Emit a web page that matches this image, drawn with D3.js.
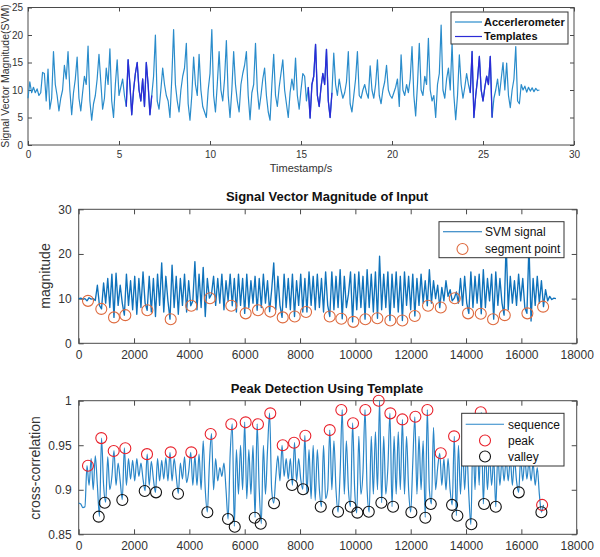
<!DOCTYPE html>
<html><head><meta charset="utf-8">
<script src="https://cdn.jsdelivr.net/npm/d3@7"></script>
<style>body{margin:0;background:#fff;} svg{display:block;font-family:Arial,"Liberation Sans",Helvetica,sans-serif;}</style>
</head><body><svg id="chart" width="600" height="557"></svg>
<script>
// ---------- Panel 1: accelerometer SVM vs time ----------
const accelStep = 0.1; // seconds between samples
const accelValues = [
 8.5,11.5,9.5,10.5,9.5,10.2,9.0,9.5,13.2,13.0,
 8.0,13.8,6.5,8.5,17.0,11.0,9.0,6.2,8.5,10.0,
 14.5,12.0,17.0,10.0,5.5,9.5,12.0,16.0,8.5,6.2,
 9.5,12.5,11.0,18.0,8.0,4.5,7.5,9.0,12.0,16.5,
 11.5,6.5,8.5,14.0,11.0,17.5,8.0,5.0,11.0,15.5,
 9.0,10.5,12.0,9.0,7.0,15.5,11.0,5.5,10.0,13.0,
 15.0,10.0,8.0,12.0,7.0,15.0,11.0,5.5,9.0,12.5,
 20.0,8.0,6.5,10.0,14.0,11.0,9.0,8.0,5.0,12.0,
 21.0,11.0,8.0,6.0,10.0,12.5,14.0,18.5,7.5,4.5,
 9.0,16.0,11.0,9.0,16.5,10.0,7.0,6.0,5.0,10.0,
 13.0,21.0,9.0,6.0,11.0,17.0,10.0,8.0,12.0,19.0,
 9.0,5.0,10.0,17.0,11.0,8.0,6.0,11.0,13.0,14.5,
 17.0,9.0,4.6,9.5,11.0,18.5,10.0,6.5,9.0,12.0,
 14.0,9.0,6.0,4.5,11.0,16.5,9.0,7.0,10.5,13.0,
 15.5,10.0,7.5,5.0,9.5,12.0,10.0,15.8,9.0,6.5,
 10.0,13.0,12.5,8.0,10.5,4.9,11.0,12.5,18.3,9.0,
 7.0,10.5,13.0,11.0,17.4,8.0,5.0,9.5,16.7,11.0,
 9.0,12.0,10.0,8.5,9.5,11.5,17.0,7.5,6.0,9.0,
 12.0,17.0,9.0,8.5,10.0,11.0,9.5,8.5,14.4,10.0,
 8.5,11.0,15.5,9.0,7.5,10.0,11.5,14.5,10.0,9.0,
 8.5,9.5,10.5,12.0,7.0,16.4,10.0,9.0,11.0,9.5,
 12.0,17.9,9.0,5.3,11.0,18.5,10.0,9.0,12.5,11.0,
 19.4,10.0,8.0,9.0,5.0,11.0,13.0,21.8,10.0,8.5,
 12.0,14.0,10.0,18.5,9.0,4.6,9.0,16.4,11.0,8.5,
 10.5,13.0,11.0,9.5,17.0,5.0,9.0,12.0,16.1,10.0,
 8.0,10.5,12.5,11.0,16.1,5.0,8.5,10.0,12.0,9.0,
 12.0,15.0,10.0,14.9,9.0,6.8,10.0,12.0,17.9,8.0,
 7.5,11.0,10.0,10.7,9.6,10.5,9.8,10.4,9.7,10.3,
 9.9,10.0
];
const templateStarts = [5.4, 15.4, 24.3];
const templateEnds = [6.8, 16.7, 25.5];
const accelXTicks = [0, 5, 10, 15, 20, 25, 30];
const accelYTicks = [0, 5, 10, 15, 20, 25];

// ---------- Panel 2: SVM of input ----------
const svmStep = 75; // samples between values
const svmValues = [
 10.0,10.1,9.9,10.0,9.5,10.2,9.9,10.0,9.6,13.0,
 8.5,7.7,13.5,9.0,14.5,8.0,15.5,5.8,15.7,8.5,
 13.0,9.0,6.3,15.5,8.5,14.0,7.5,15.0,6.5,14.5,
 8.0,16.0,9.0,7.4,15.0,7.0,14.5,6.0,15.5,8.5,
 18.0,7.0,15.0,9.5,5.4,17.5,8.0,15.0,6.5,14.5,
 8.5,15.5,7.0,14.0,8.4,9.5,18.3,7.5,15.5,8.0,
 17.0,6.0,14.5,10.1,11.0,15.0,8.5,14.5,9.0,15.5,
 7.5,14.0,9.5,15.5,8.4,14.5,7.0,15.5,8.5,14.5,
 6.7,15.5,8.0,14.0,9.0,15.0,7.4,14.5,8.0,15.5,
 9.0,14.0,7.1,12.0,18.0,7.5,15.0,8.5,5.8,15.5,
 8.0,14.5,7.5,15.5,6.0,14.0,8.5,15.5,7.0,14.5,
 7.0,16.0,8.5,15.0,7.5,15.5,8.0,14.5,7.0,16.0,
 8.5,6.0,16.0,7.5,15.0,8.0,16.5,5.5,15.0,8.0,
 11.0,16.0,4.8,15.5,7.5,16.0,8.0,15.0,5.4,16.5,
 8.0,15.5,7.0,16.0,5.6,19.5,7.5,15.5,8.0,16.0,
 5.1,15.5,8.0,16.0,7.0,15.0,5.1,16.0,8.5,15.0,
 7.5,15.5,6.1,14.5,8.5,15.5,9.0,14.0,8.4,16.5,
 9.0,14.0,10.0,13.0,8.0,12.5,9.5,14.0,10.5,12.0,
 9.5,10.1,11.5,9.0,14.5,8.5,15.0,9.0,6.7,16.0,
 8.0,15.0,9.0,15.5,6.6,16.5,8.0,14.5,9.5,15.5,
 5.4,16.0,8.5,14.5,9.0,6.3,22.5,7.5,15.0,9.0,
 14.0,8.5,15.5,9.5,14.5,8.0,6.7,22.0,5.0,14.5,
 8.5,15.0,9.0,14.0,8.2,12.0,9.5,10.5,9.8,10.1,
 10.0
];
const segmentSamples = [336,817,1277,1685,2480,3325,4070,4745,5516,6035,6480,6925,7374,7808,8217,9073,9493,9927,10361,10795,11265,11699,12147,12627,13086,13592,14073,14532,14977,15400,16218,16786];
const segmentValues = [9.5,7.7,5.8,6.3,7.4,5.4,8.4,10.1,8.4,6.7,7.4,7.1,5.8,6.0,7.0,6.0,5.5,4.8,5.4,5.6,5.1,5.1,6.1,8.4,8.0,10.1,6.7,6.6,5.4,6.3,6.7,8.2];
const sampleXTicks = [0,2000,4000,6000,8000,10000,12000,14000,16000,18000];
const svmYTicks = [0, 10, 20, 30];

// ---------- Panel 3: cross-correlation ----------
const corrStep = 75;
const corrValues = [
 0.885,0.884,0.880,0.881,0.927,0.905,0.935,0.900,0.938,0.905,
 0.870,0.958,0.905,0.886,0.937,0.900,0.915,0.944,0.905,0.930,
 0.910,0.889,0.947,0.905,0.935,0.912,0.933,0.910,0.935,0.915,
 0.930,0.912,0.899,0.940,0.905,0.932,0.912,0.897,0.935,0.910,
 0.933,0.912,0.936,0.910,0.942,0.910,0.935,0.915,0.896,0.930,
 0.912,0.937,0.908,0.920,0.942,0.905,0.938,0.905,0.940,0.900,
 0.955,0.900,0.875,0.930,0.963,0.900,0.935,0.910,0.925,0.915,
 0.930,0.900,0.867,0.940,0.974,0.859,0.945,0.895,0.950,0.900,
 0.976,0.890,0.945,0.895,0.950,0.869,0.974,0.900,0.862,0.950,
 0.895,0.945,0.986,0.900,0.885,0.915,0.938,0.910,0.950,0.915,
 0.935,0.912,0.935,0.905,0.953,0.910,0.935,0.912,0.9005,0.961,
 0.895,0.945,0.890,0.950,0.888,0.945,0.900,0.881,0.950,0.890,
 0.900,0.967,0.900,0.955,0.900,0.875,0.920,0.990,0.895,0.955,
 0.900,0.881,0.975,0.900,0.874,0.960,0.895,0.920,0.990,0.900,
 0.875,0.960,0.895,0.965,0.900,1.000,0.8855,0.960,0.895,0.925,
 0.986,0.881,0.960,0.895,0.965,0.900,0.979,0.895,0.960,0.900,
 0.875,0.930,0.982,0.895,0.960,0.900,0.955,0.869,0.990,0.900,
 0.884,0.970,0.900,0.925,0.941,0.905,0.935,0.900,0.935,0.900,
 0.883,0.960,0.871,0.950,0.895,0.950,0.900,0.945,0.895,0.861,
 0.960,0.900,0.965,0.905,0.987,0.884,0.945,0.900,0.940,0.905,
 0.935,0.881,0.940,0.905,0.935,0.910,0.935,0.910,0.935,0.905,
 0.935,0.910,0.897,0.935,0.910,0.935,0.912,0.932,0.910,0.930,
 0.905,0.925,0.895,0.875,0.883
];
const peakSamples = [336,817,1265,1685,2469,3325,4070,4770,5516,6035,6480,6925,7374,7783,8192,9073,9493,9916,10361,10844,11265,11699,12169,12603,13086,13568,14532,16750];
const peakValues = [0.927,0.958,0.9435,0.9466,0.940,0.942,0.942,0.9626,0.9735,0.9757,0.9735,0.9858,0.950,0.9528,0.9607,0.967,0.9895,0.9746,0.9895,1.0,0.9858,0.979,0.982,0.9895,0.941,0.960,0.987,0.883];
const valleySamples = [723,940,1577,2386,2795,3590,4650,5398,5640,6362,6579,7060,7711,8109,8749,9374,9833,10072,10484,10940,11362,12024,12530,12725,13495,13687,14193,14652,15075,15906,16724];
const valleyValues = [0.8698,0.8855,0.8885,0.8986,0.8971,0.8956,0.8747,0.8672,0.8585,0.8686,0.8619,0.8848,0.9053,0.9005,0.881,0.8754,0.881,0.8743,0.8754,0.8855,0.881,0.8747,0.8686,0.884,0.883,0.8709,0.8612,0.884,0.881,0.8971,0.8747];
const corrYTicks = [0.85, 0.9, 0.95, 1];

// ---------- drawing ----------
const svg = d3.select("#chart");
const axisColor = "#4a4a4a";
const textColor = "#333";

function panel(o) {
  const x = d3.scaleLinear().domain(o.xDomain).range([o.left, o.right]);
  const y = d3.scaleLinear().domain(o.yDomain).range([o.bottom, o.top]);
  const g = svg.append("g");
  const tl = o.tickLen;
  const fmtX = o.fmtX || (d => String(d));
  const fmtY = o.fmtY || (d => String(d));
  const styleAxis = sel => {
    sel.select(".domain").remove();
    sel.selectAll(".tick line").attr("stroke", axisColor);
    sel.selectAll(".tick text").attr("fill", textColor).style("font-size", o.fontSize + "px").style("font-family", "Arial, 'Liberation Sans', sans-serif");
  };
  g.append("g").attr("transform", `translate(0,${o.bottom})`)
    .call(d3.axisBottom(x).tickValues(o.xTicks).tickSizeInner(-tl).tickSizeOuter(0).tickPadding(o.xPad).tickFormat(fmtX)).call(styleAxis);
  g.append("g").attr("transform", `translate(0,${o.top})`)
    .call(d3.axisTop(x).tickValues(o.xTicks).tickSizeInner(-tl).tickSizeOuter(0).tickFormat("")).call(styleAxis);
  g.append("g").attr("transform", `translate(${o.left},0)`)
    .call(d3.axisLeft(y).tickValues(o.yTicks).tickSizeInner(-tl).tickSizeOuter(0).tickPadding(o.yPad).tickFormat(fmtY)).call(styleAxis);
  g.append("g").attr("transform", `translate(${o.right},0)`)
    .call(d3.axisRight(y).tickValues(o.yTicks).tickSizeInner(-tl).tickSizeOuter(0).tickFormat("")).call(styleAxis);
  g.append("rect").attr("x", o.left).attr("y", o.top).attr("width", o.right - o.left).attr("height", o.bottom - o.top)
    .attr("fill", "none").attr("stroke", axisColor).attr("stroke-width", 1);
  return { x, y, g };
}

// Panel 1
const p1 = panel({left: 28, right: 574, top: 7.5, bottom: 145, xDomain: [0, 30], yDomain: [0, 25],
  xTicks: accelXTicks, yTicks: accelYTicks, tickLen: 4, fontSize: 10, xPad: 6, yPad: 5});
const accelData = accelValues.map((v, i) => ({t: +(i * accelStep).toFixed(2), v}));
const line1 = d3.line().x(d => p1.x(d.t)).y(d => p1.y(d.v));
p1.g.append("path").datum(accelData).attr("d", line1).attr("fill", "none")
  .attr("stroke", "#2a8ccb").attr("stroke-width", 1.2).attr("stroke-linejoin", "round");
templateStarts.forEach((s, k) => {
  const seg = accelData.filter(d => d.t >= s - 1e-9 && d.t <= templateEnds[k] + 1e-9);
  p1.g.append("path").datum(seg).attr("d", line1).attr("fill", "none")
    .attr("stroke", "#2b2bd6").attr("stroke-width", 1.3).attr("stroke-linejoin", "round");
});
svg.append("text").attr("x", 301).attr("y", 172).attr("text-anchor", "middle").attr("fill", textColor)
  .style("font-size", "11px").text("Timestamp/s");
svg.append("text").attr("transform", "translate(9,76) rotate(-90)").attr("text-anchor", "middle").attr("fill", textColor)
  .style("font-size", "10.5px").text("Signal Vector Magnitude(SVM)");
// legend 1
{
  const lg = svg.append("g");
  lg.append("rect").attr("x", 451).attr("y", 12).attr("width", 117).attr("height", 32).attr("fill", "#fff").attr("stroke", "#333").attr("stroke-width", 1);
  lg.append("line").attr("x1", 455).attr("x2", 482).attr("y1", 22).attr("y2", 22).attr("stroke", "#2a8ccb").attr("stroke-width", 1.2);
  lg.append("line").attr("x1", 455).attr("x2", 482).attr("y1", 36.5).attr("y2", 36.5).attr("stroke", "#2b2bd6").attr("stroke-width", 1.2);
  lg.append("text").attr("x", 484).attr("y", 22).attr("dy", "0.35em").style("font-size", "11px").style("font-weight", "bold").attr("fill", "#111").text("Accerlerometer");
  lg.append("text").attr("x", 484).attr("y", 36.5).attr("dy", "0.35em").style("font-size", "11px").style("font-weight", "bold").attr("fill", "#111").text("Templates");
}

// Panel 2
const p2 = panel({left: 78.7, right: 576.7, top: 209.3, bottom: 343.3, xDomain: [0, 18000], yDomain: [0, 30],
  xTicks: sampleXTicks, yTicks: svmYTicks, tickLen: 5, fontSize: 12, xPad: 7, yPad: 7});
const svmData = svmValues.map((v, i) => ({s: i * svmStep, v}));
p2.g.append("path").datum(svmData).attr("d", d3.line().x(d => p2.x(d.s)).y(d => p2.y(d.v)))
  .attr("fill", "none").attr("stroke", "#0f72bb").attr("stroke-width", 1.35).attr("stroke-linejoin", "round");
p2.g.selectAll("circle.seg").data(segmentSamples.map((s, i) => ({s, v: segmentValues[i]}))).join("circle")
  .attr("cx", d => p2.x(d.s)).attr("cy", d => p2.y(d.v)).attr("r", 5.5)
  .attr("fill", "none").attr("stroke", "#de6a3e").attr("stroke-width", 1.1);
svg.append("text").attr("x", 327).attr("y", 201).attr("text-anchor", "middle").style("font-size", "13px").style("font-weight", "bold").attr("fill", "#111").text("Signal Vector Magnitude of Input");
svg.append("text").attr("transform", "translate(50,276) rotate(-90)").attr("text-anchor", "middle").attr("fill", textColor).style("font-size", "14px").text("magnitude");
{
  const lg = svg.append("g");
  lg.append("rect").attr("x", 439).attr("y", 221.7).attr("width", 125).attr("height", 36).attr("fill", "#fff").attr("stroke", "#333").attr("stroke-width", 1);
  lg.append("line").attr("x1", 443).attr("x2", 482).attr("y1", 231.7).attr("y2", 231.7).attr("stroke", "#0f72bb").attr("stroke-width", 1.1);
  lg.append("circle").attr("cx", 462.5).attr("cy", 249).attr("r", 5.5).attr("fill", "none").attr("stroke", "#de6a3e").attr("stroke-width", 1.1);
  lg.append("text").attr("x", 485).attr("y", 231.7).attr("dy", "0.35em").style("font-size", "12px").attr("fill", "#111").text("SVM signal");
  lg.append("text").attr("x", 485).attr("y", 249).attr("dy", "0.35em").style("font-size", "12px").attr("fill", "#111").text("segment point");
}

// Panel 3
const p3 = panel({left: 78.7, right: 576.7, top: 400.7, bottom: 534.3, xDomain: [0, 18000], yDomain: [0.85, 1],
  xTicks: sampleXTicks, yTicks: corrYTicks, tickLen: 5, fontSize: 12, xPad: 7, yPad: 7});
const corrData = corrValues.map((v, i) => ({s: i * corrStep, v}));
p3.g.append("path").datum(corrData).attr("d", d3.line().curve(d3.curveMonotoneX).x(d => p3.x(d.s)).y(d => p3.y(d.v)))
  .attr("fill", "none").attr("stroke", "#2a86c8").attr("stroke-width", 1.2);
p3.g.selectAll("circle.pk").data(peakSamples.map((s, i) => ({s, v: peakValues[i]}))).join("circle")
  .attr("cx", d => p3.x(d.s)).attr("cy", d => p3.y(d.v)).attr("r", 5.5)
  .attr("fill", "none").attr("stroke", "#e8202a").attr("stroke-width", 1.1);
p3.g.selectAll("circle.vl").data(valleySamples.map((s, i) => ({s, v: valleyValues[i]})), (d, i) => "v" + i).join("circle")
  .attr("class", "vl").attr("cx", d => p3.x(d.s)).attr("cy", d => p3.y(d.v)).attr("r", 5.5)
  .attr("fill", "none").attr("stroke", "#111").attr("stroke-width", 1.1);
svg.append("text").attr("x", 327).attr("y", 393).attr("text-anchor", "middle").style("font-size", "13px").style("font-weight", "bold").attr("fill", "#111").text("Peak Detection Using Template");
svg.append("text").attr("transform", "translate(40,468) rotate(-90)").attr("text-anchor", "middle").attr("fill", textColor).style("font-size", "14px").text("cross-correlation");
{
  const lg = svg.append("g");
  lg.append("rect").attr("x", 461.7).attr("y", 413.3).attr("width", 102.3).attr("height", 52.7).attr("fill", "#fff").attr("stroke", "#333").attr("stroke-width", 1);
  lg.append("line").attr("x1", 465.7).attr("x2", 504).attr("y1", 424.3).attr("y2", 424.3).attr("stroke", "#2a86c8").attr("stroke-width", 1.1);
  lg.append("circle").attr("cx", 485).attr("cy", 440.5).attr("r", 5.5).attr("fill", "none").attr("stroke", "#e8202a").attr("stroke-width", 1.1);
  lg.append("circle").attr("cx", 485).attr("cy", 456.5).attr("r", 5.5).attr("fill", "none").attr("stroke", "#111").attr("stroke-width", 1.1);
  lg.append("text").attr("x", 508).attr("y", 424.3).attr("dy", "0.35em").style("font-size", "12px").attr("fill", "#111").text("sequence");
  lg.append("text").attr("x", 508).attr("y", 440.5).attr("dy", "0.35em").style("font-size", "12px").attr("fill", "#111").text("peak");
  lg.append("text").attr("x", 508).attr("y", 456.5).attr("dy", "0.35em").style("font-size", "12px").attr("fill", "#111").text("valley");
}
</script></body></html>
